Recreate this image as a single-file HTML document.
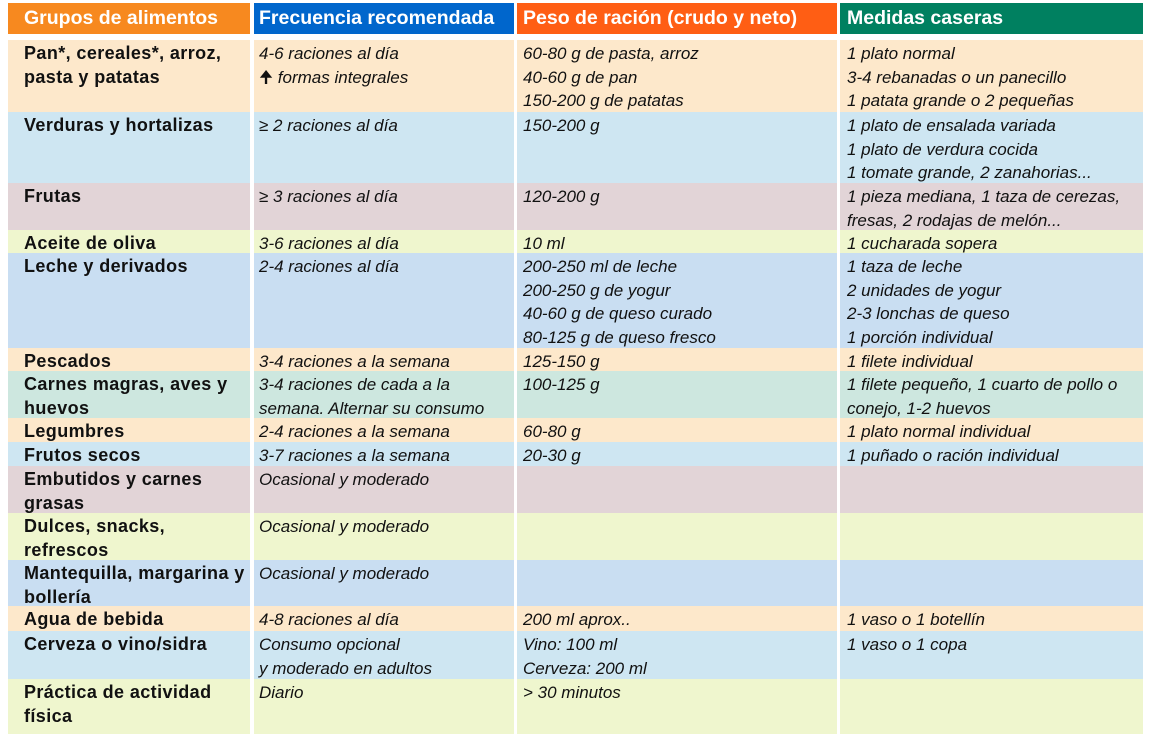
<!DOCTYPE html>
<html><head><meta charset="utf-8"><style>
body{margin:0;width:1151px;height:737px;background:#fff;position:relative;overflow:hidden;font-family:"Liberation Sans",Arial,sans-serif;}
.c{position:absolute;box-sizing:border-box;font-size:17px;line-height:23.5px;color:#111;font-style:italic;white-space:nowrap;padding-top:2px;}
.h{position:absolute;top:3px;height:31px;color:#fff;font-weight:bold;font-size:19.5px;line-height:31px;box-sizing:border-box;white-space:nowrap;}
.k1{left:8px;width:242px;padding-left:16px;font-style:normal;font-weight:bold;font-size:18px;letter-spacing:0.4px;}
.k2{left:254px;width:260px;padding-left:5px;}
.k3{left:517px;width:320px;padding-left:6px;}
.k4{left:840px;width:303px;padding-left:7px;}
.pe{background:#FDE8CB}.lb{background:#CEE6F2}.mv{background:#E2D4D7}.gr{background:#EFF6CE}.bl{background:#C9DEF2}.tl{background:#CDE7DF}
</style></head><body>
<div class="h" style="left:8px;width:242px;padding-left:16px;background:#F7891F">Grupos de alimentos</div>
<div class="h" style="left:254px;width:260px;padding-left:5px;background:#0066CC">Frecuencia recomendada</div>
<div class="h" style="left:517px;width:320px;padding-left:6px;background:#FF5E14">Peso de ración (crudo y neto)</div>
<div class="h" style="left:840px;width:303px;padding-left:7px;background:#008060">Medidas caseras</div>

<div>
<div class="c k1 pe" style="top:40px;height:72px">Pan*, cereales*, arroz,<br>pasta y patatas</div>
<div class="c k2 pe" style="top:40px;height:72px">4-6 raciones al día<br><span style="font-style:normal">🠉</span> formas integrales</div>
<div class="c k3 pe" style="top:40px;height:72px">60-80 g de pasta, arroz<br>40-60 g de pan<br>150-200 g de patatas</div>
<div class="c k4 pe" style="top:40px;height:72px">1 plato normal<br>3-4 rebanadas o un panecillo<br>1 patata grande o 2 pequeñas</div></div>

<div>
<div class="c k1 lb" style="top:112px;height:71px">Verduras y hortalizas</div>
<div class="c k2 lb" style="top:112px;height:71px">≥ 2 raciones al día</div>
<div class="c k3 lb" style="top:112px;height:71px">150-200 g</div>
<div class="c k4 lb" style="top:112px;height:71px">1 plato de ensalada variada<br>1 plato de verdura cocida<br>1 tomate grande, 2 zanahorias...</div></div>

<div>
<div class="c k1 mv" style="top:183px;height:47px">Frutas</div>
<div class="c k2 mv" style="top:183px;height:47px">≥ 3 raciones al día</div>
<div class="c k3 mv" style="top:183px;height:47px">120-200 g</div>
<div class="c k4 mv" style="top:183px;height:47px">1 pieza mediana, 1 taza de cerezas,<br>fresas, 2 rodajas de melón...</div></div>

<div>
<div class="c k1 gr" style="top:230px;height:23px">Aceite de oliva</div>
<div class="c k2 gr" style="top:230px;height:23px">3-6 raciones al día</div>
<div class="c k3 gr" style="top:230px;height:23px">10 ml</div>
<div class="c k4 gr" style="top:230px;height:23px">1 cucharada sopera</div></div>

<div>
<div class="c k1 bl" style="top:253px;height:95px">Leche y derivados</div>
<div class="c k2 bl" style="top:253px;height:95px">2-4 raciones al día</div>
<div class="c k3 bl" style="top:253px;height:95px">200-250 ml de leche<br>200-250 g de yogur<br>40-60 g de queso curado<br>80-125 g de queso fresco</div>
<div class="c k4 bl" style="top:253px;height:95px">1 taza de leche<br>2 unidades de yogur<br>2-3 lonchas de queso<br>1 porción individual</div></div>

<div>
<div class="c k1 pe" style="top:348px;height:23px">Pescados</div>
<div class="c k2 pe" style="top:348px;height:23px">3-4 raciones a la semana</div>
<div class="c k3 pe" style="top:348px;height:23px">125-150 g</div>
<div class="c k4 pe" style="top:348px;height:23px">1 filete individual</div></div>

<div>
<div class="c k1 tl" style="top:371px;height:47px">Carnes magras, aves y<br>huevos</div>
<div class="c k2 tl" style="top:371px;height:47px">3-4 raciones de cada a la<br>semana. Alternar su consumo</div>
<div class="c k3 tl" style="top:371px;height:47px">100-125 g</div>
<div class="c k4 tl" style="top:371px;height:47px">1 filete pequeño, 1 cuarto de pollo o<br>conejo, 1-2 huevos</div></div>

<div>
<div class="c k1 pe" style="top:418px;height:24px">Legumbres</div>
<div class="c k2 pe" style="top:418px;height:24px">2-4 raciones a la semana</div>
<div class="c k3 pe" style="top:418px;height:24px">60-80 g</div>
<div class="c k4 pe" style="top:418px;height:24px">1 plato normal individual</div></div>

<div>
<div class="c k1 lb" style="top:442px;height:24px">Frutos secos</div>
<div class="c k2 lb" style="top:442px;height:24px">3-7 raciones a la semana</div>
<div class="c k3 lb" style="top:442px;height:24px">20-30 g</div>
<div class="c k4 lb" style="top:442px;height:24px">1 puñado o ración individual</div></div>

<div>
<div class="c k1 mv" style="top:466px;height:47px">Embutidos y carnes<br>grasas</div>
<div class="c k2 mv" style="top:466px;height:47px">Ocasional y moderado</div>
<div class="c k3 mv" style="top:466px;height:47px"></div>
<div class="c k4 mv" style="top:466px;height:47px"></div></div>

<div>
<div class="c k1 gr" style="top:513px;height:47px">Dulces, snacks,<br>refrescos</div>
<div class="c k2 gr" style="top:513px;height:47px">Ocasional y moderado</div>
<div class="c k3 gr" style="top:513px;height:47px"></div>
<div class="c k4 gr" style="top:513px;height:47px"></div></div>

<div>
<div class="c k1 bl" style="top:560px;height:46px">Mantequilla, margarina y<br>bollería</div>
<div class="c k2 bl" style="top:560px;height:46px">Ocasional y moderado</div>
<div class="c k3 bl" style="top:560px;height:46px"></div>
<div class="c k4 bl" style="top:560px;height:46px"></div></div>

<div>
<div class="c k1 pe" style="top:606px;height:25px">Agua de bebida</div>
<div class="c k2 pe" style="top:606px;height:25px">4-8 raciones al día</div>
<div class="c k3 pe" style="top:606px;height:25px">200 ml aprox..</div>
<div class="c k4 pe" style="top:606px;height:25px">1 vaso o 1 botellín</div></div>

<div>
<div class="c k1 lb" style="top:631px;height:48px">Cerveza o vino/sidra</div>
<div class="c k2 lb" style="top:631px;height:48px">Consumo opcional<br>y moderado en adultos</div>
<div class="c k3 lb" style="top:631px;height:48px">Vino: 100 ml<br>Cerveza: 200 ml</div>
<div class="c k4 lb" style="top:631px;height:48px">1 vaso o 1 copa</div></div>

<div>
<div class="c k1 gr" style="top:679px;height:55px">Práctica de actividad<br>física</div>
<div class="c k2 gr" style="top:679px;height:55px">Diario</div>
<div class="c k3 gr" style="top:679px;height:55px">&gt; 30 minutos</div>
<div class="c k4 gr" style="top:679px;height:55px"></div></div>
</body></html>
